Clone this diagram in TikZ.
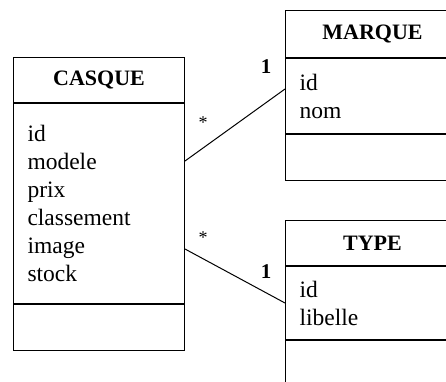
\documentclass[tikz,border=0pt]{standalone}
\usepackage{fontspec}
\setmainfont{Liberation Serif}
\usetikzlibrary{positioning}

\begin{document}
\begin{tikzpicture}[
    x=1pt, y=1pt,
    header/.style={
        rectangle,
        draw,
        line width=1pt,
        inner xsep=14pt,
        inner ysep=0pt,
        minimum height=45pt,
        align=center,
        font=\fontsize{22}{26}\selectfont\bfseries
    },
    attrbox/.style={
        rectangle,
        draw,
        line width=1pt,
        inner xsep=14pt,
        inner ysep=0pt,
        align=left,
        font=\fontsize{23.5}{28}\selectfont
    },
    opbox/.style={
        rectangle,
        draw,
        line width=1pt,
        minimum height=46pt
    },
    link/.style={line width=1pt},
    many/.style={font=\fontsize{18}{18}\selectfont},
    one/.style={font=\fontsize{21}{21}\selectfont\bfseries}
]
    \useasboundingbox (0, 0) rectangle (446, -381);

    % CASQUE class
    \node[header, text width=143pt, anchor=north west] (casque) at (13, -57) {CASQUE};
    \node[attrbox, text width=143pt, minimum height=200pt, below=0pt of casque] (casque attr) {
        id\\
        modele\\
        prix\\
        classement\\
        image\\
        stock
    };
    \node[opbox, minimum width=171pt, below=0pt of casque attr] (casque op) {};

    % MARQUE class
    \node[header, text width=146pt, minimum height=47pt, anchor=north west] (marque) at (285, -10) {MARQUE};
    \node[attrbox, text width=146pt, minimum height=75pt, below=0pt of marque] (marque attr) {
        id\\
        nom
    };
    \node[opbox, minimum width=174pt, below=0pt of marque attr] (marque op) {};

    % TYPE class
    \node[header, text width=146pt, anchor=north west] (type) at (285, -220) {TYPE};
    \node[attrbox, text width=146pt, minimum height=73pt, below=0pt of type] (type attr) {
        id\\
        libelle
    };
    \node[opbox, minimum width=174pt, below=0pt of type attr] (type op) {};

    % Associations
    \draw[link] ([yshift=-58pt]casque attr.north east) -- ([yshift=-31pt]marque attr.north west)
        node[many, at start, xshift=18pt, yshift=38pt] {*}
        node[one, at end, xshift=-19pt, yshift=22pt] {1};
    \draw[link] ([yshift=-146pt]casque attr.north east) -- ([yshift=-37pt]type attr.north west)
        node[many, at start, xshift=18pt, yshift=11pt] {*}
        node[one, at end, xshift=-19pt, yshift=31pt] {1};
\end{tikzpicture}
\end{document}
